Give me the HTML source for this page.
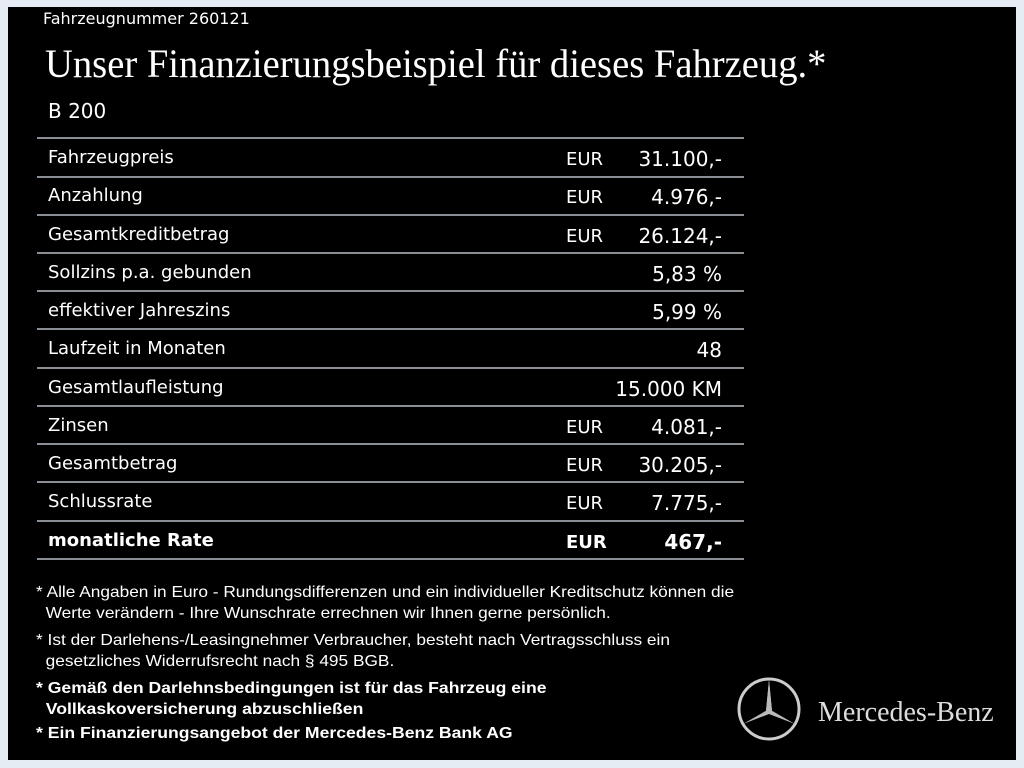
<!DOCTYPE html><html><head><style>
body{margin:0;width:1024px;height:768px;background:#e6ecf3;overflow:hidden;font-family:"DejaVu Sans","Liberation Sans",sans-serif;color:#fff}
#p{position:absolute;left:8px;top:7px;width:1008px;height:753px;background:#000}
.a{position:absolute;white-space:nowrap}
.line{position:absolute;left:37px;width:707px;height:2px;background:#8a8f96}
.r{position:absolute;left:37px;width:707px;height:38px;font-size:18px}
.r .l{position:absolute;left:11px;top:8px}
.r .e{position:absolute;left:529px;top:10px}
.r .v{position:absolute;right:22px;top:8px;font-size:20px}
.f{font-family:"Liberation Sans",sans-serif;font-size:16px;position:absolute;left:36px;line-height:21px;white-space:nowrap;transform:scaleX(1.08);transform-origin:left}
</style></head><body><div id="p"></div>
<div class="a" style="left:43px;top:9px;font-size:16px">Fahrzeugnummer 260121</div>
<div class="a" style="left:45px;top:40px;font-family:'Liberation Serif',serif;font-size:40px;transform:scaleX(0.965);transform-origin:left">Unser Finanzierungsbeispiel für dieses Fahrzeug.*</div>
<div class="a" style="left:48px;top:99px;font-size:20px">B 200</div>
<div class="line" style="top:137px"></div>
<div class="r" style="top:139px"><span class="l">Fahrzeugpreis</span><span class="e">EUR</span><span class="v">31.100,-</span></div>
<div class="line" style="top:176px"></div>
<div class="r" style="top:177px"><span class="l">Anzahlung</span><span class="e">EUR</span><span class="v">4.976,-</span></div>
<div class="line" style="top:214px"></div>
<div class="r" style="top:216px"><span class="l">Gesamtkreditbetrag</span><span class="e">EUR</span><span class="v">26.124,-</span></div>
<div class="line" style="top:252px"></div>
<div class="r" style="top:254px"><span class="l">Sollzins p.a. gebunden</span><span class="v">5,83 %</span></div>
<div class="line" style="top:290px"></div>
<div class="r" style="top:292px"><span class="l">effektiver Jahreszins</span><span class="v">5,99 %</span></div>
<div class="line" style="top:328px"></div>
<div class="r" style="top:330px"><span class="l">Laufzeit in Monaten</span><span class="v">48</span></div>
<div class="line" style="top:367px"></div>
<div class="r" style="top:369px"><span class="l">Gesamtlaufleistung</span><span class="v">15.000 KM</span></div>
<div class="line" style="top:405px"></div>
<div class="r" style="top:407px"><span class="l">Zinsen</span><span class="e">EUR</span><span class="v">4.081,-</span></div>
<div class="line" style="top:443px"></div>
<div class="r" style="top:445px"><span class="l">Gesamtbetrag</span><span class="e">EUR</span><span class="v">30.205,-</span></div>
<div class="line" style="top:481px"></div>
<div class="r" style="top:483px"><span class="l">Schlussrate</span><span class="e">EUR</span><span class="v">7.775,-</span></div>
<div class="line" style="top:520px"></div>
<div class="r" style="top:522px;font-weight:bold"><span class="l">monatliche Rate</span><span class="e">EUR</span><span class="v">467,-</span></div>
<div class="line" style="top:558px"></div>
<div class="f" style="top:582px">* Alle Angaben in Euro - Rundungsdifferenzen und ein individueller Kreditschutz können die<br>&nbsp;&nbsp;Werte verändern - Ihre Wunschrate errechnen wir Ihnen gerne persönlich.</div>
<div class="f" style="top:630px">* Ist der Darlehens-/Leasingnehmer Verbraucher, besteht nach Vertragsschluss ein<br>&nbsp;&nbsp;gesetzliches Widerrufsrecht nach § 495 BGB.</div>
<div class="f" style="top:678px;font-weight:bold;transform:scaleX(1.1)">* Gemäß den Darlehnsbedingungen ist für das Fahrzeug eine<br>&nbsp;&nbsp;Vollkaskoversicherung abzuschließen</div>
<div class="f" style="top:723px;font-weight:bold;transform:scaleX(1.1)">* Ein Finanzierungsangebot der Mercedes-Benz Bank AG</div>
<svg class="a" style="left:736px;top:676px" width="66" height="66" viewBox="0 0 66 66"><circle cx="33" cy="33" r="30" fill="none" stroke="#ccc" stroke-width="3"/><path d="M33 4 L36 35 L33 33 L30 35 Z M33 33 L59 48 L36 35 Z M33 33 L7 48 L30 35 Z" fill="#ccc"/><path d="M33 4 L30 35 L7 48 L33 38 L59 48 L36 35 Z" fill="#bbb"/></svg>
<div class="a" style="left:818px;top:697px;font-family:'Liberation Serif',serif;font-size:28px;color:#ddd">Mercedes-Benz</div>
</body></html>
